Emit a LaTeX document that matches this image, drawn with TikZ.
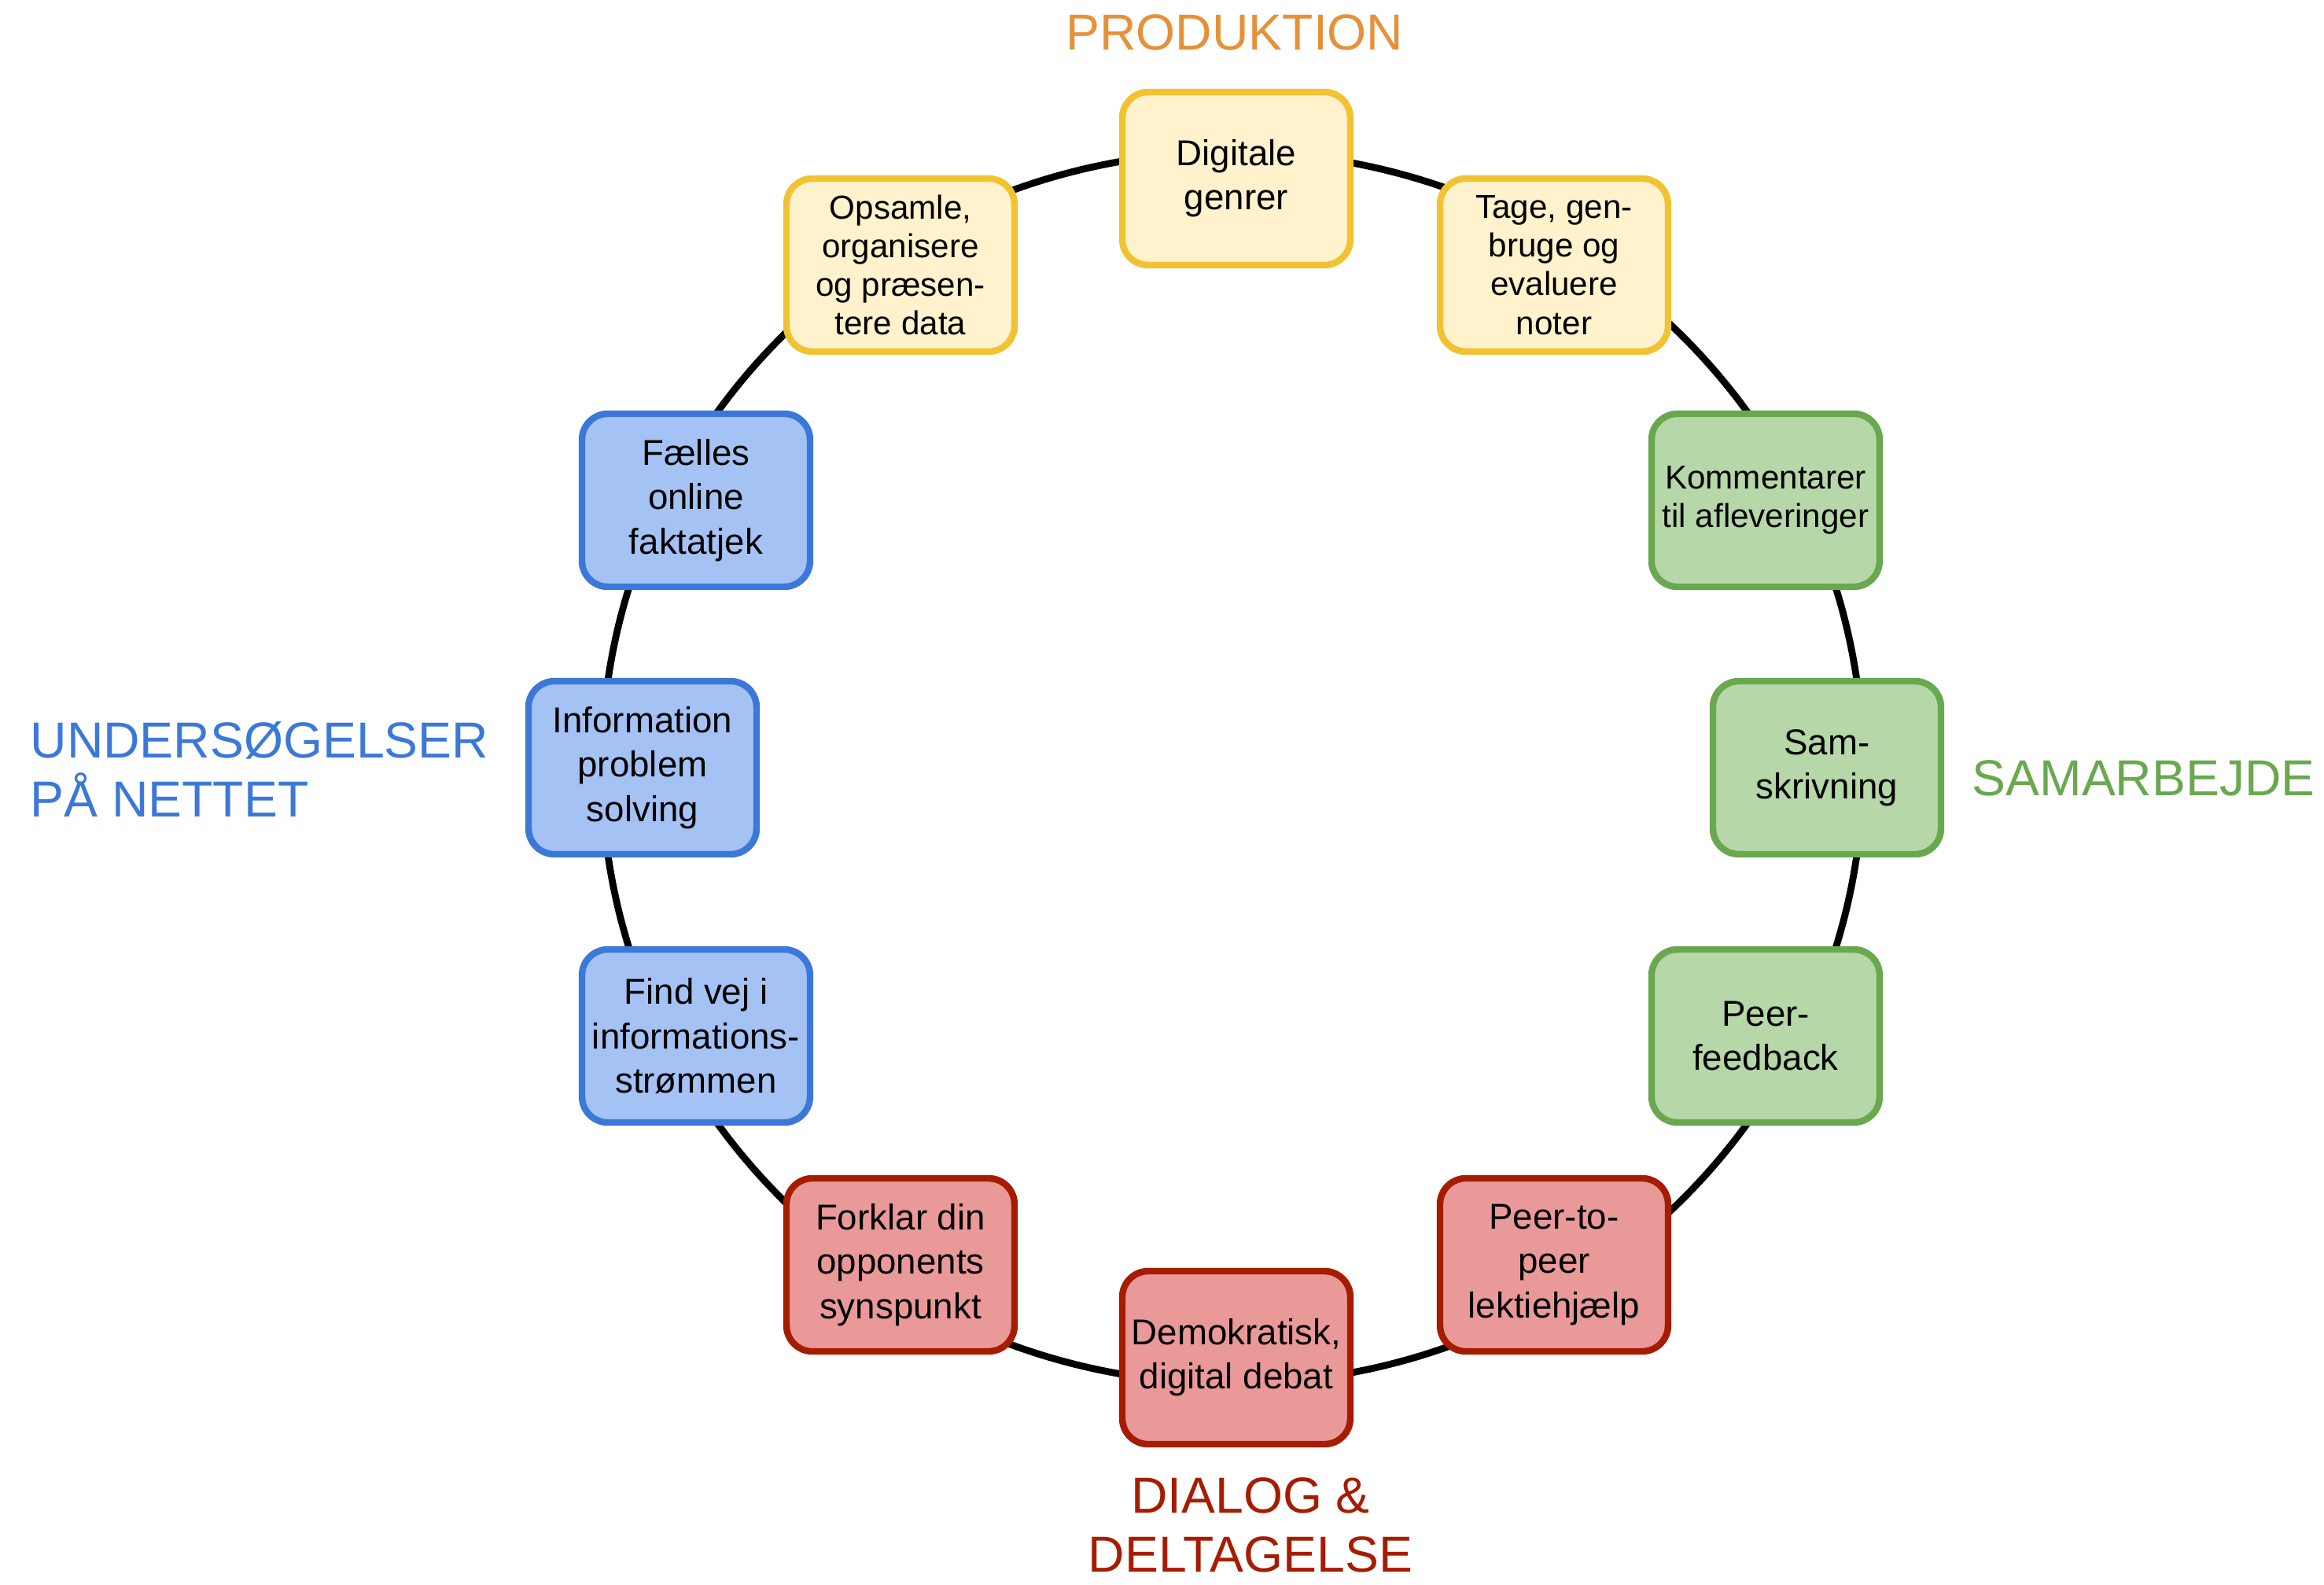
\documentclass[tikz,border=0pt]{standalone}
\usepackage{fontspec}
\setmainfont{Liberation Sans}
\usetikzlibrary{backgrounds}

\definecolor{prodfill}{HTML}{FFF2CC}
\definecolor{proddraw}{HTML}{F1C232}
\definecolor{prodtext}{HTML}{E69138}
\definecolor{samfill}{HTML}{B6D7A8}
\definecolor{samdraw}{HTML}{6AA84F}
\definecolor{dialfill}{HTML}{EA9999}
\definecolor{dialdraw}{HTML}{A61C00}
\definecolor{undfill}{HTML}{A4C2F4}
\definecolor{unddraw}{HTML}{3C78D8}

\tikzset{
  box/.style={draw, line width=2.4pt, rounded corners=0.33cm, minimum width=2.9cm,
    minimum height=2.2cm, inner sep=2pt, align=center, font=\fontsize{13}{16}\selectfont},
  smalltext/.style={font=\fontsize{12}{14}\selectfont},
  prod/.style={box, fill=prodfill, draw=proddraw},
  sam/.style={box, fill=samfill, draw=samdraw},
  dial/.style={box, fill=dialfill, draw=dialdraw},
  und/.style={box, fill=undfill, draw=unddraw},
  title/.style={inner sep=0pt, font=\fontsize{18.3}{21.5}\selectfont},
  ring/.style={line width=2.5pt, black},
}

\begin{document}
\begin{tikzpicture}
  \useasboundingbox (-15.67, -10.38) rectangle (13.88, 9.76);
  \coordinate (mid) at (0, 0);

  \node[prod] (digi) at (0.05, 7.49) {Digitale\\genrer};
  \node[prod, smalltext] (tage) at (4.09, 6.39) {Tage, gen-\\bruge og\\evaluere\\noter};
  \node[sam, smalltext] (komm) at (6.78, 3.40) {Kommentarer\\til afleveringer};
  \node[sam] (samskr) at (7.56, 0) {Sam-\\skrivning};
  \node[sam] (peerfb) at (6.78, -3.41) {Peer-\\feedback};
  \node[dial] (ptp) at (4.09, -6.32) {Peer-to-\\peer\\lektiehjælp};
  \node[dial] (demo) at (0.05, -7.50) {Demokratisk,\\digital debat};
  \node[dial] (forklar) at (-4.22, -6.32) {Forklar din\\opponents\\synspunkt};
  \node[und] (findvej) at (-6.82, -3.41) {Find vej i\\informations-\\strømmen};
  \node[und] (info) at (-7.50, 0) {Information\\problem\\solving};
  \node[und] (faelles) at (-6.82, 3.40) {Fælles\\online\\faktatjek};
  \node[prod, smalltext] (opsamle) at (-4.22, 6.39) {Opsamle,\\organisere\\og præsen-\\tere data};

  \begin{pgfonlayer}{background}
    \draw[ring] (mid) ellipse [x radius=8.02, y radius=7.83];
  \end{pgfonlayer}

  \node[title, text=prodtext] (tprod) at (0.03, 9.35) {PRODUKTION};
  \node[title, text=samdraw, anchor=west] (tsam) at (9.40, -0.13) {SAMARBEJDE};
  \node[title, text=unddraw, anchor=west, align=left] (tund) at (-15.29, -0.02) {UNDERSØGELSER\\PÅ NETTET};
  \node[title, text=dialdraw, align=center] (tdial) at (0.23, -9.63) {DIALOG \&\\DELTAGELSE};
\end{tikzpicture}
\end{document}
